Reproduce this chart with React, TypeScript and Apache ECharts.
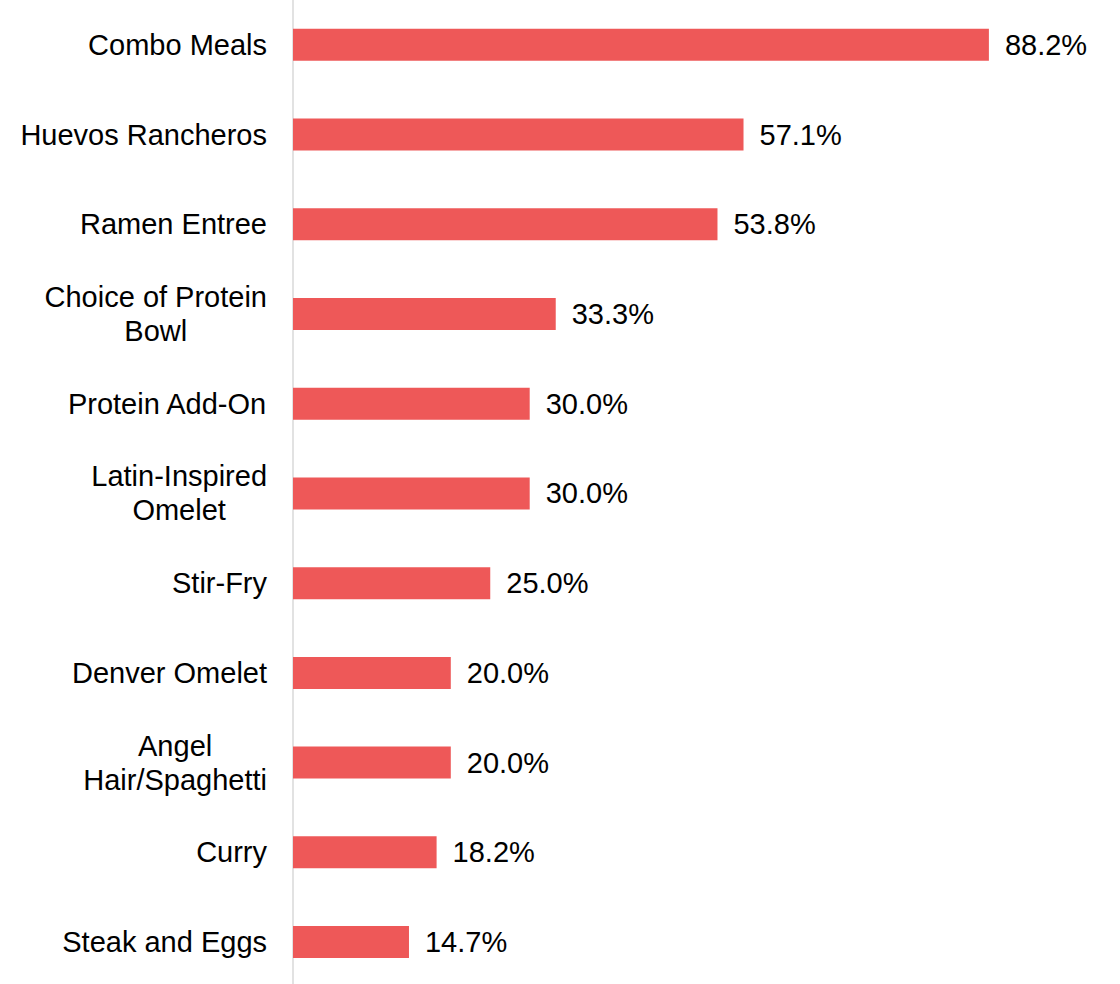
import React, { useEffect, useRef } from "react";
import * as echarts from "echarts";

const categories = [
  "Combo Meals",
  "Huevos Rancheros",
  "Ramen Entree",
  "Choice of Protein\nBowl",
  "Protein Add-On",
  "Latin-Inspired\nOmelet",
  "Stir-Fry",
  "Denver Omelet",
  "Angel\nHair/Spaghetti",
  "Curry",
  "Steak and Eggs",
];
const values = [88.2, 57.1, 53.8, 33.3, 30.0, 30.0, 25.0, 20.0, 20.0, 18.2, 14.7];

const FONT = "'Liberation Sans', Arial, sans-serif";

export default function App() {
  const ref = useRef<HTMLDivElement>(null);
  useEffect(() => {
    if (!ref.current) return;
    const chart = echarts.init(ref.current, null, { renderer: "svg" });
    chart.setOption({
      animation: false,
      grid: { left: 293, top: -0.4, width: 789, height: 987.3, containLabel: false },
      xAxis: {
        type: "value",
        min: 0,
        max: 100,
        show: false,
      },
      yAxis: {
        type: "category",
        inverse: true,
        data: categories,
        axisLine: { show: true, lineStyle: { color: "#d9d9d9", width: 1.5 } },
        axisTick: { show: false },
        splitLine: { show: false },
        axisLabel: {
          color: "#000",
          fontSize: 29,
          fontFamily: FONT,
          margin: 26,
          lineHeight: 34,
          align: "right",
          formatter: (v: string) =>
            v
              .split("\n")
              .map((line) => "{c|" + line + "}")
              .join("\n"),
          rich: {
            c: {
              align: "center",
              color: "#000",
              fontSize: 29,
              fontFamily: FONT,
              lineHeight: 34,
            },
          },
        },
      },
      series: [
        {
          type: "bar",
          data: values,
          barWidth: 32,
          itemStyle: { color: "#ee5858" },
          label: {
            show: true,
            position: "right",
            distance: 16,
            color: "#000",
            fontSize: 29,
            fontFamily: FONT,
            formatter: (p: any) => p.value.toFixed(1) + "%",
          },
        },
      ],
    });
    return () => chart.dispose();
  }, []);
  return (
    <div
      style={{
        position: "absolute",
        left: 0,
        top: 0,
        width: 1120,
        height: 984,
        overflow: "hidden",
      }}
    >
      <div ref={ref} style={{ width: 1120, height: 992 }} />
    </div>
  );
}
